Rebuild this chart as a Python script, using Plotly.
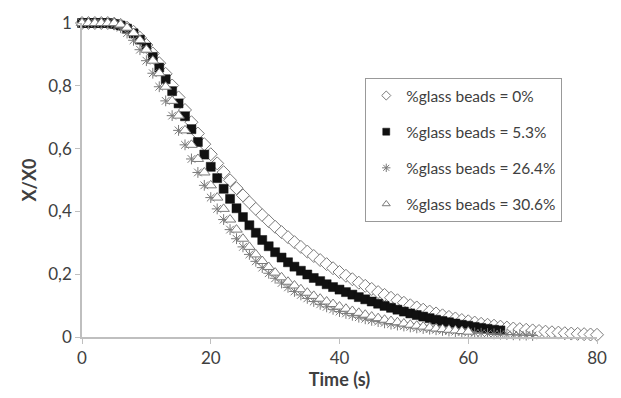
import plotly.graph_objects as go

# Time axis (s), one point per second
t_0 = list(range(0, 81))
t_53 = list(range(0, 66))
t_264 = list(range(0, 71))
t_306 = list(range(0, 61))

y_0 = [1.0, 1.0, 1.0, 1.0, 1.0, 0.998, 0.994, 0.985, 0.972, 0.953,
       0.93, 0.903, 0.872, 0.838, 0.801, 0.763, 0.723, 0.684, 0.648, 0.614,
       0.582, 0.553, 0.525, 0.499, 0.474, 0.451, 0.429, 0.408, 0.388, 0.369,
       0.351, 0.334, 0.318, 0.302, 0.287, 0.272, 0.258, 0.245, 0.232, 0.219,
       0.207, 0.195, 0.184, 0.173, 0.163, 0.153, 0.143, 0.134, 0.125, 0.117,
       0.109, 0.101, 0.094, 0.087, 0.081, 0.075, 0.069, 0.064, 0.059, 0.054,
       0.050, 0.046, 0.042, 0.039, 0.036, 0.033, 0.030, 0.027, 0.025, 0.023,
       0.021, 0.019, 0.017, 0.015, 0.014, 0.012, 0.011, 0.010, 0.009, 0.008,
       0.007]

y_53 = [1.0, 1.0, 1.0, 1.0, 1.0, 0.997, 0.992, 0.982, 0.967, 0.947,
        0.922, 0.892, 0.858, 0.821, 0.783, 0.744, 0.703, 0.662, 0.621, 0.581,
        0.542, 0.506, 0.472, 0.440, 0.410, 0.382, 0.356, 0.332, 0.309, 0.289,
        0.270, 0.253, 0.238, 0.224, 0.211, 0.199, 0.188, 0.178, 0.168, 0.159,
        0.151, 0.143, 0.135, 0.127, 0.120, 0.113, 0.106, 0.099, 0.093, 0.087,
        0.081, 0.075, 0.070, 0.065, 0.060, 0.055, 0.051, 0.047, 0.043, 0.039,
        0.036, 0.032, 0.029, 0.026, 0.023, 0.021]

y_264 = [1.0, 1.0, 1.0, 1.0, 1.0, 0.995, 0.985, 0.968, 0.945, 0.915,
         0.88, 0.84, 0.797, 0.752, 0.705, 0.658, 0.612, 0.567, 0.524, 0.483,
         0.444, 0.408, 0.374, 0.342, 0.313, 0.287, 0.263, 0.241, 0.221, 0.203,
         0.187, 0.172, 0.158, 0.145, 0.134, 0.123, 0.113, 0.104, 0.096, 0.088,
         0.081, 0.075, 0.069, 0.063, 0.058, 0.053, 0.049, 0.045, 0.041, 0.038,
         0.035, 0.032, 0.029, 0.027, 0.025, 0.023, 0.021, 0.019, 0.017, 0.016,
         0.015, 0.013, 0.012, 0.011, 0.010, 0.009, 0.008, 0.007, 0.006, 0.006,
         0.005]

y_306 = [1.0, 1.0, 1.0, 1.0, 1.0, 1.0, 0.995, 0.985, 0.968, 0.945,
         0.915, 0.88, 0.84, 0.797, 0.752, 0.705, 0.658, 0.612, 0.567, 0.524,
         0.483, 0.444, 0.408, 0.374, 0.342, 0.313, 0.287, 0.263, 0.242, 0.223,
         0.205, 0.190, 0.176, 0.164, 0.152, 0.141, 0.131, 0.122, 0.113, 0.105,
         0.097, 0.090, 0.083, 0.077, 0.071, 0.065, 0.060, 0.055, 0.051, 0.047,
         0.043, 0.039, 0.036, 0.033, 0.030, 0.027, 0.025, 0.023, 0.021, 0.019,
         0.017]

names = ["%glass beads = 0%", "%glass beads = 5.3%",
         "%glass beads = 26.4%", "%glass beads = 30.6%"]

x_ticks = [0, 20, 40, 60, 80]
y_ticks = [0, 0.2, 0.4, 0.6, 0.8, 1]
y_tick_text = ["0", "0,2", "0,4", "0,6", "0,8", "1"]

GREY = "#7a7a7a"
TXT = "#404040"

styles = [
    dict(symbol="diamond", color="white", line=dict(color=GREY, width=1)),
    dict(symbol="square", color="#111111", line=dict(color="#111111", width=0.5)),
    dict(symbol="asterisk-open", color=GREY, line=dict(color=GREY, width=1)),
    dict(symbol="triangle-up", color="white", line=dict(color=GREY, width=1)),
]
sizes = [10, 9, 9, 10]
legend_sizes = [7, 7, 7, 7]
series = [(t_0, y_0), (t_53, y_53), (t_264, y_264), (t_306, y_306)]

fig = go.Figure()
for i, (tx, ty) in enumerate(series):
    fig.add_trace(go.Scatter(x=tx, y=ty, mode="markers", name=names[i],
                             showlegend=False, cliponaxis=False,
                             marker=dict(size=sizes[i], **styles[i])))
# legend entries (no data) with smaller symbols, as in the reference
for i in range(4):
    fig.add_trace(go.Scatter(x=[None], y=[None], mode="markers", name=names[i],
                             legendgroup="g%d" % i,
                             marker=dict(size=legend_sizes[i], **styles[i])))

fig.update_layout(
    width=621, height=398,
    margin=dict(l=82, r=24, t=18, b=61),
    paper_bgcolor="white", plot_bgcolor="white",
    font=dict(family="Lato, 'Open Sans', sans-serif", color=TXT, size=16),
    showlegend=True,
    legend=dict(x=0.55, y=0.825, xanchor="left", yanchor="top",
                bordercolor="#999999", borderwidth=1, bgcolor="white",
                font=dict(size=15.5, color=TXT), tracegroupgap=13,
                itemwidth=30),
    xaxis=dict(range=[0, 80], tickvals=x_ticks, showline=True, linecolor="#bfbfbf",
               linewidth=1.5, ticks="outside", tickcolor="#bfbfbf", ticklen=5,
               showgrid=False, zeroline=False, tickfont=dict(size=17, color=TXT),
               title=dict(text="<b>Time (s)</b>", font=dict(size=18, color=TXT), standoff=5)),
    yaxis=dict(range=[0, 1], tickvals=y_ticks, ticktext=y_tick_text, showline=True,
               linecolor="#bfbfbf", linewidth=1.5, ticks="outside", tickcolor="#bfbfbf",
               ticklen=5, showgrid=False, zeroline=False, tickfont=dict(size=17, color=TXT),
               title=dict(text="<b>X/X0</b>", font=dict(size=18, color=TXT), standoff=7)),
)

fig.write_html("out.html")
